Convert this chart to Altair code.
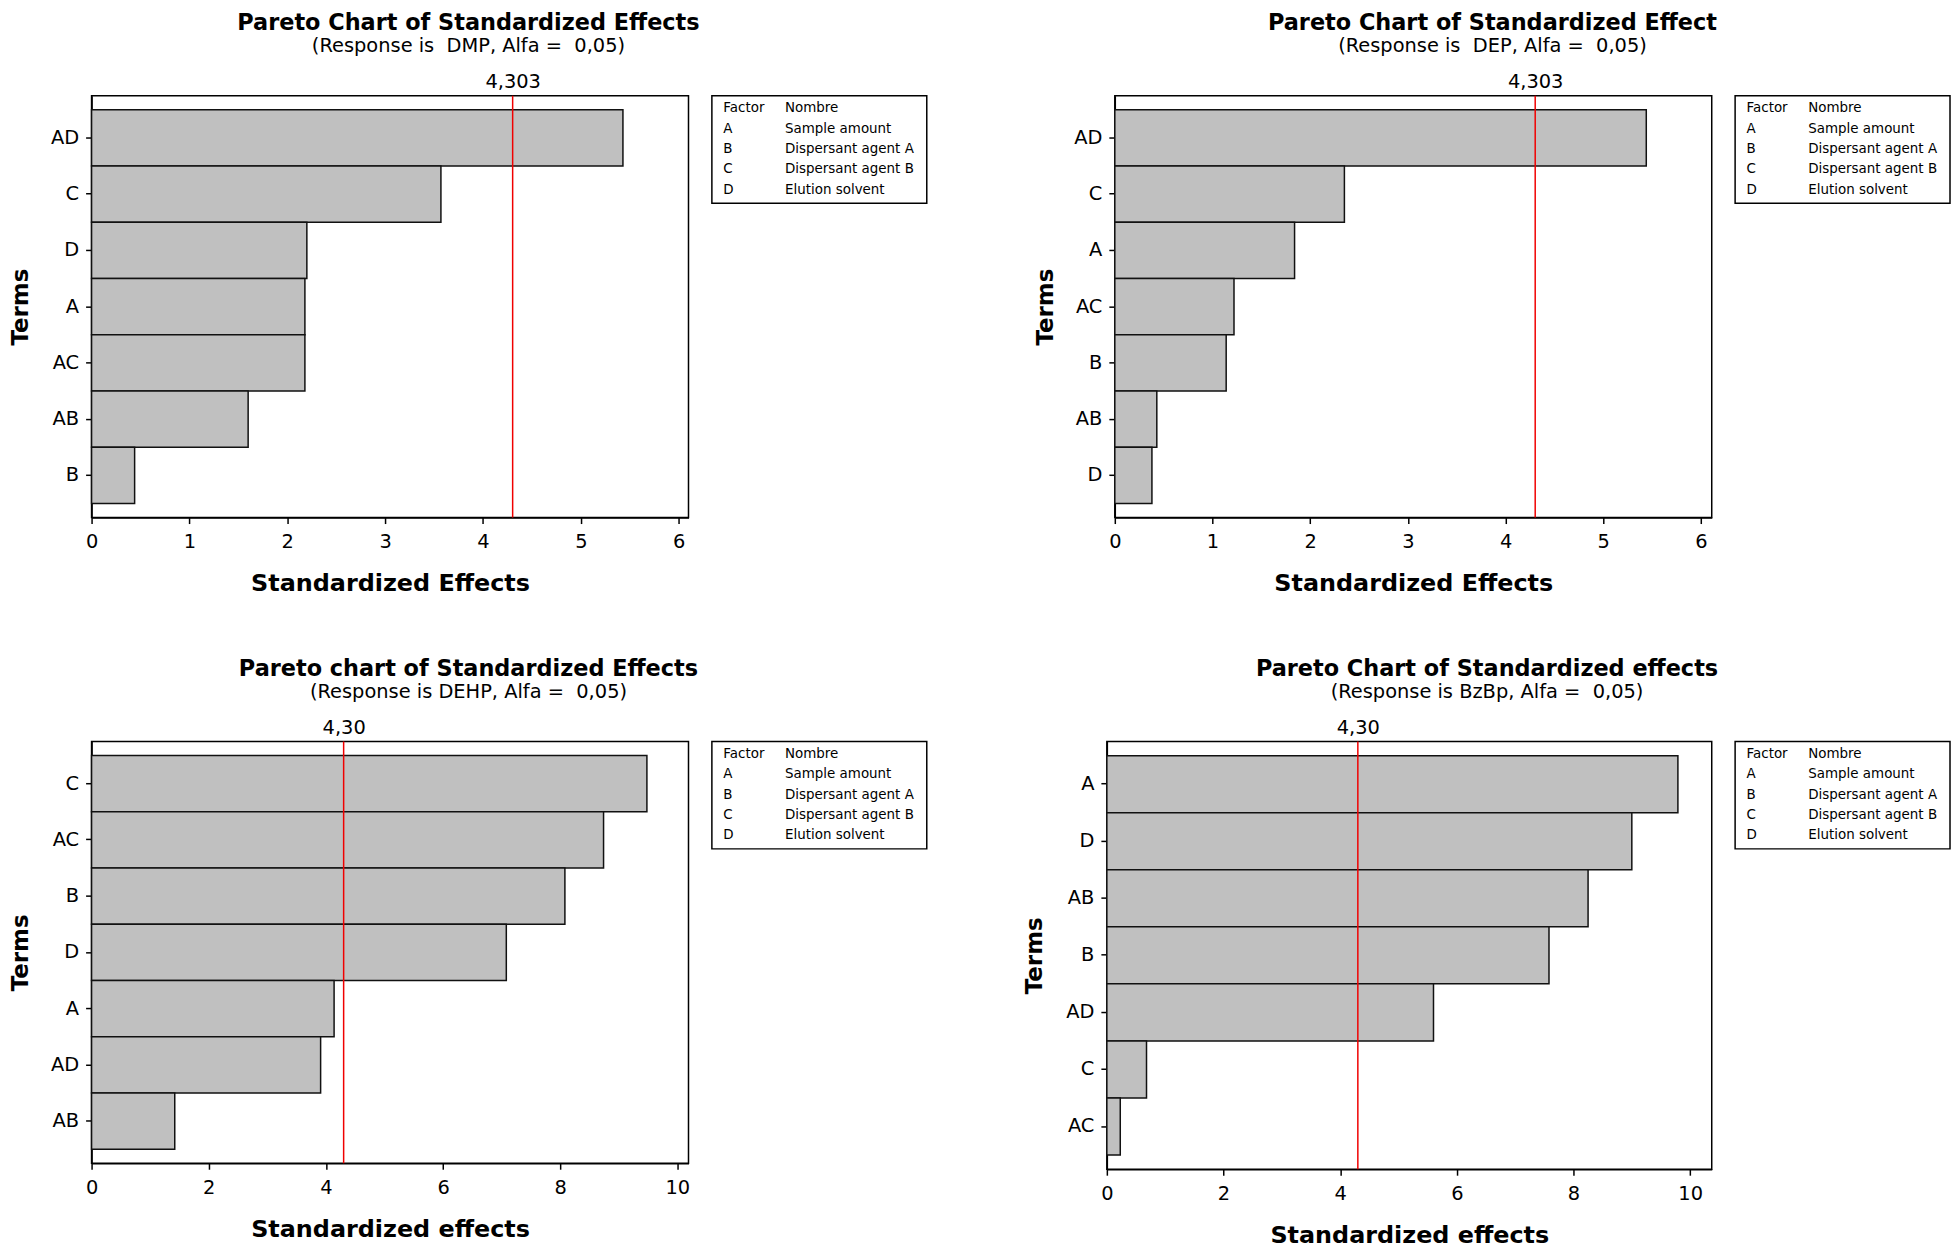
import altair as alt
import pandas as pd

# ---- data ----
p1_terms = ["AD", "C", "D", "A", "AC", "AB", "B"]
p1_effects = [5.43, 3.57, 2.20, 2.18, 2.18, 1.60, 0.44]
p2_terms = ["AD", "C", "A", "AC", "B", "AB", "D"]
p2_effects = [5.44, 2.35, 1.84, 1.22, 1.14, 0.43, 0.38]
p3_terms = ["C", "AC", "B", "D", "A", "AD", "AB"]
p3_effects = [9.48, 8.74, 8.08, 7.08, 4.14, 3.91, 1.42]
p4_terms = ["A", "D", "AB", "B", "AD", "C", "AC"]
p4_effects = [9.79, 9.00, 8.25, 7.58, 5.60, 0.68, 0.23]

critical = 4.303
legend_codes = ["Factor", "A", "B", "C", "D"]
legend_names = ["Nombre", "Sample amount", "Dispersant agent A", "Dispersant agent B", "Elution solvent"]

titles = ["Pareto Chart of Standardized Effects", "Pareto Chart of Standardized Effect",
          "Pareto chart of Standardized Effects", "Pareto Chart of Standardized effects"]
subtitles = ["(Response is\u00a0\u00a0DMP, Alfa =\u00a0\u00a00,05)", "(Response is\u00a0\u00a0DEP, Alfa =\u00a0\u00a00,05)",
             "(Response is DEHP, Alfa =\u00a0\u00a00,05)", "(Response is BzBp, Alfa =\u00a0\u00a00,05)"]
xtitles = ["Standardized Effects", "Standardized Effects", "Standardized effects", "Standardized effects"]

FONT = "DejaVu Sans"


def panel(terms, effects, title, subtitle, xtitle, xmax, xticks, crit_fmt, w, h, title_x):
    df = pd.DataFrame({"term": terms, "effect": effects})
    xscale = alt.Scale(domain=[0, xmax], nice=False, zero=True)
    bars = alt.Chart(df).mark_bar(color="#c0c0c0", stroke="#111111", strokeWidth=1.5).encode(
        x=alt.X("effect:Q", scale=xscale,
                axis=alt.Axis(values=xticks, title=xtitle, grid=False, tickSize=6, tickWidth=1.5,
                              tickColor="black", domainColor="black", domainWidth=1.5,
                              labelPadding=9, labelFont=FONT, labelFontSize=19.5, labelColor="black",
                              labelFlush=False, titleFont=FONT, titleFontSize=24, titleFontWeight="bold",
                              titleColor="black", titlePadding=21)),
        y=alt.Y("term:N", sort=terms, scale=alt.Scale(paddingInner=0, paddingOuter=0.25),
                axis=alt.Axis(title="Terms", tickSize=6, tickWidth=1.5, tickColor="black",
                              domainColor="black", domainWidth=1.5, labelPadding=7, labelFont=FONT,
                              labelFontSize=19.5, labelColor="black", titleFont=FONT, titleFontSize=23,
                              titleFontWeight="bold", titleColor="black", titleAngle=270,
                              titleBaseline="top", titleX=title_x)),
    )
    cdf = pd.DataFrame({"crit": [critical]})
    rule = alt.Chart(cdf).mark_rule(color="#f00000", strokeWidth=1.5).encode(
        x=alt.X("crit:Q", scale=xscale,
                axis=alt.Axis(orient="top", values=[critical], title=None, ticks=False, domain=False,
                              grid=False, labelPadding=4, labelFont=FONT, labelFontSize=19.5,
                              labelColor="black", labelFlush=False,
                              labelExpr="replace(format(datum.value, '" + crit_fmt + "'), '.', ',')")),
    )
    box = alt.Chart(pd.DataFrame({"k": [0]})).mark_rect(fill="white", stroke="black", strokeWidth=1.5).encode(
        x=alt.value(w + 23.5), x2=alt.value(w + 239.5), y=alt.value(0), y2=alt.value(108))
    ldf = pd.DataFrame({"code": legend_codes, "name": legend_names, "row": list(range(len(legend_codes)))})
    yleg = alt.Y("row:O", scale=alt.Scale(type="point", range=[12.5, 94.5], padding=0), axis=None)
    codes = alt.Chart(ldf).mark_text(align="left", baseline="middle", font=FONT, fontSize=13.5, color="black").encode(
        x=alt.value(w + 35), y=yleg, text="code:N")
    names = alt.Chart(ldf).mark_text(align="left", baseline="middle", font=FONT, fontSize=13.5, color="black").encode(
        x=alt.value(w + 97), y=yleg, text="name:N")
    return alt.layer(bars, rule, box, codes, names).resolve_scale(y="independent").resolve_axis(
        x="independent").properties(
        width=w, height=h,
        title=alt.Title(title, subtitle=subtitle, anchor="middle", frame="bounds", font=FONT, fontSize=22.5,
                        fontWeight="bold", color="black", subtitleFont=FONT, subtitleFontSize=19.5,
                        subtitleColor="black", subtitlePadding=3, offset=16))


p1 = panel(p1_terms, p1_effects, titles[0], subtitles[0], xtitles[0], 6.1, [0, 1, 2, 3, 4, 5, 6], ".3f", 600, 424, -82.6)
p2 = panel(p2_terms, p2_effects, titles[1], subtitles[1], xtitles[1], 6.11, [0, 1, 2, 3, 4, 5, 6], ".3f", 600, 424, -81)
p3 = panel(p3_terms, p3_effects, titles[2], subtitles[2], xtitles[2], 10.19, [0, 2, 4, 6, 8, 10], ".2f", 600, 424, -82.6)
p4 = panel(p4_terms, p4_effects, titles[3], subtitles[3], xtitles[3], 10.37, [0, 2, 4, 6, 8, 10], ".2f", 608, 430, -84)

chart = alt.vconcat(
    alt.hconcat(p1, p2, spacing=105.5),
    alt.hconcat(p3, p4, spacing=94.5),
    spacing=60,
).properties(padding=0).configure(
    background="white",
    view=alt.ViewConfig(stroke="black", strokeWidth=1.5),
)

chart.save("out.html", embed_options={"renderer": "svg", "actions": False})
